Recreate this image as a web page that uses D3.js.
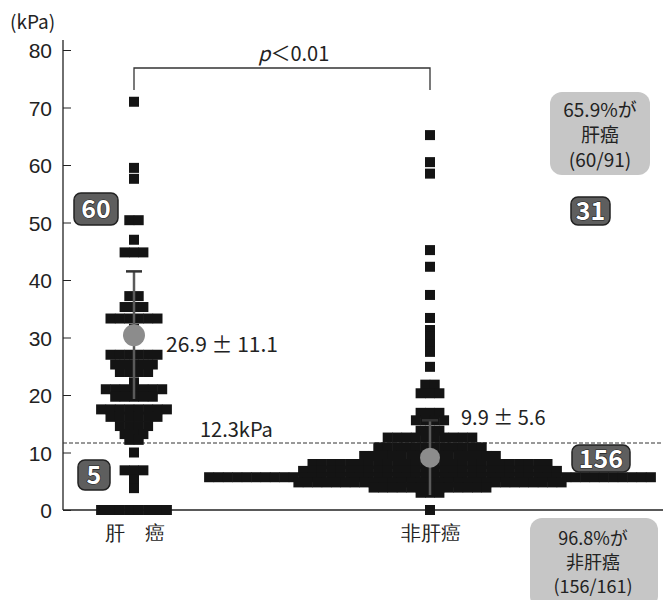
<!DOCTYPE html>
<html>
<head>
<meta charset="utf-8">
<script src="https://cdn.jsdelivr.net/npm/d3@7"></script>
<style>
  body { margin: 0; background: #fff; }
  svg { display: block; font-family: "Noto Sans CJK JP", "Noto Sans", sans-serif; }
  .axis text { font-size: 21px; fill: #222; }
  .axis path, .axis line { stroke: #222; }
</style>
</head>
<body>
<div id="chart"></div>
<script>
// groups on the x axis
const groups = ["肝　癌", "非肝癌"];

// liver cancer: measured value (kPa) and how many patients sit on that row
const liverValues = [71, 59.5, 57.6, 50.4, 47, 44.8, 37.2, 35.3, 33.3, 31.5, 27, 25.3, 24, 22.2, 21, 19.7, 17.5, 16.2, 14.6, 13.2, 12.2, 10, 6.9, 5.3, 3.8, 0];
const liverCounts = [1, 1, 1, 2, 1, 3, 2, 3, 6, 1, 6, 5, 4, 1, 7, 5, 8, 6, 4, 3, 2, 1, 3, 1, 1, 8];

// non liver cancer
const nonLiverValues = [65.2, 60.5, 58.5, 45.2, 42.3, 37.4, 33.4, 31.3, 30.1, 28.7, 27.5, 24.9, 21.8, 20.3, 16.9, 15.6, 13.8, 12.6, 10.9, 9.4, 8.0, 6.8, 5.7, 4.8, 3.9, 3.0, 0];
const nonLiverCounts = [1, 1, 1, 1, 1, 1, 1, 1, 1, 1, 1, 1, 2, 3, 3, 4, 3, 10, 12, 15, 26, 28, 48, 29, 13, 3, 1];

// mean +- SD markers as drawn, and their printed labels
const meanValues = [30.4, 9.1];
const sdValues = [11.1, 6.5];
const meanLabels = ["26.9 ± 11.1", "9.9 ± 5.6"];

const yTicks = [0, 10, 20, 30, 40, 50, 60, 70, 80];
const cutoffValue = 11.65;
const cutoffLabel = "12.3kPa";

const W = 666, H = 600;
const svg = d3.select("#chart").append("svg").attr("width", W).attr("height", H);

const y = d3.scaleLinear().domain([0, 80]).range([510, 50]);
const x = d3.scalePoint().domain(groups).range([134, 430]);

const sq = 10, step = 9.4;

// expand value / count rows into single squares, centred on the group
const expand = (values, counts, g) => {
    let out = [];
    values.forEach((v, i) => {
        const n = counts[i];
        for (let j = 0; j < n; j++) out.push({ group: g, value: v, slot: j - (n - 1) / 2 });
    });
    return out;
};
const points = [].concat(expand(liverValues, liverCounts, groups[0]),
                         expand(nonLiverValues, nonLiverCounts, groups[1]));

// axes
svg.append("line").attr("x1", 63).attr("x2", 63).attr("y1", 40).attr("y2", 510)
    .attr("stroke", "#222").attr("stroke-width", 1.3);
svg.append("line").attr("x1", 63).attr("x2", 663).attr("y1", 510).attr("y2", 510)
    .attr("stroke", "#222").attr("stroke-width", 1.3);

const yAxis = svg.append("g").attr("class", "axis")
    .attr("transform", "translate(63,0)")
    .call(d3.axisLeft(y).tickValues(yTicks).tickSize(-8).tickPadding(11));
yAxis.select(".domain").remove();
yAxis.selectAll("text").attr("dy", "0.36em");

const xAxis = svg.append("g").attr("class", "axis")
    .attr("transform", "translate(0,510)")
    .call(d3.axisBottom(x).tickSize(0).tickPadding(16));
xAxis.select(".domain").remove();
xAxis.selectAll("text").style("font-size", "20px");

svg.append("text").attr("x", 10).attr("y", 29).style("font-size", "19px").attr("fill", "#222").text("(kPa)");

// cut-off
svg.append("line").attr("x1", 63).attr("x2", 663)
    .attr("y1", y(cutoffValue)).attr("y2", y(cutoffValue))
    .attr("stroke", "#333").attr("stroke-width", 1).attr("stroke-dasharray", "4,2");
svg.append("text").attr("x", 200).attr("y", 437).style("font-size", "20px").attr("fill", "#222").text(cutoffLabel);

// squares
svg.append("g").selectAll("rect").data(points).enter().append("rect")
    .attr("x", d => x(d.group) + d.slot * step - sq / 2)
    .attr("y", d => y(d.value) - sq / 2)
    .attr("width", sq).attr("height", sq)
    .attr("fill", "#141414");

// mean +- SD
const stats = groups.map((g, i) => ({ group: g, mean: meanValues[i], sd: sdValues[i], label: meanLabels[i] }));
const st = svg.append("g").selectAll("g").data(stats).enter().append("g");
st.append("line")
    .attr("x1", d => x(d.group)).attr("x2", d => x(d.group))
    .attr("y1", d => y(d.mean + d.sd)).attr("y2", d => y(d.mean - d.sd))
    .attr("stroke", "#5a5a5a").attr("stroke-width", 2.5);
st.append("line")
    .attr("x1", d => x(d.group) - 8).attr("x2", d => x(d.group) + 8)
    .attr("y1", d => y(d.mean + d.sd)).attr("y2", d => y(d.mean + d.sd))
    .attr("stroke", "#333").attr("stroke-width", 2.5);
st.append("circle")
    .attr("cx", d => x(d.group)).attr("cy", d => y(d.mean))
    .attr("r", (d, i) => i === 0 ? 11 : 10)
    .attr("fill", "#8c8c8c");

svg.append("text").attr("x", 166).attr("y", 352).style("font-size", "21px").attr("fill", "#222").text(meanLabels[0]);
svg.append("text").attr("x", 461).attr("y", 425).style("font-size", "20px").attr("fill", "#222").text(meanLabels[1]);

// significance bracket
svg.append("path")
    .attr("d", `M${x(groups[0])},90V68H${x(groups[1])}V90`)
    .attr("fill", "none").attr("stroke", "#333").attr("stroke-width", 1.3);
const pt = svg.append("text").attr("x", 258).attr("y", 61).style("font-size", "20px").attr("fill", "#222");
pt.append("tspan").style("font-style", "italic").text("p");
pt.append("tspan").text("＜0.01");

// count badges
const badge = (x0, y0, w, h, txt) => {
    svg.append("rect").attr("x", x0).attr("y", y0).attr("width", w).attr("height", h)
        .attr("rx", 7).attr("fill", "#5e5e5e").attr("stroke", "#222").attr("stroke-width", 1.5);
    svg.append("text").attr("x", x0 + w / 2).attr("y", y0 + h / 2).attr("dy", "0.36em")
        .attr("text-anchor", "middle").style("font-size", "25px").style("font-weight", "bold")
        .attr("fill", "#fff").attr("stroke", "#222").attr("stroke-width", 1.2)
        .style("paint-order", "stroke").text(txt);
};
badge(74, 193, 44, 32, "60");
badge(571, 197, 39, 28, "31");
badge(78, 460, 32, 30, "5");
badge(572, 445, 58, 27, "156");

// call-out boxes
const callout = (x0, y0, w, h, lines, cx, y1, gap, fs) => {
    svg.append("rect").attr("x", x0).attr("y", y0).attr("width", w).attr("height", h)
        .attr("rx", 12).attr("fill", "#c6c6c6");
    svg.append("g").selectAll("text").data(lines).enter().append("text")
        .attr("x", cx).attr("y", (d, i) => y1 + i * gap)
        .attr("text-anchor", "middle").style("font-size", fs + "px").attr("fill", "#222")
        .text(d => d);
};
callout(550, 92, 100, 83, ["65.9%が", "肝癌", "(60/91)"], 600, 117, 25, 19);
callout(530, 518, 128, 90, ["96.8%が", "非肝癌", "(156/161)"], 593, 545, 24, 18);
</script>
</body>
</html>
